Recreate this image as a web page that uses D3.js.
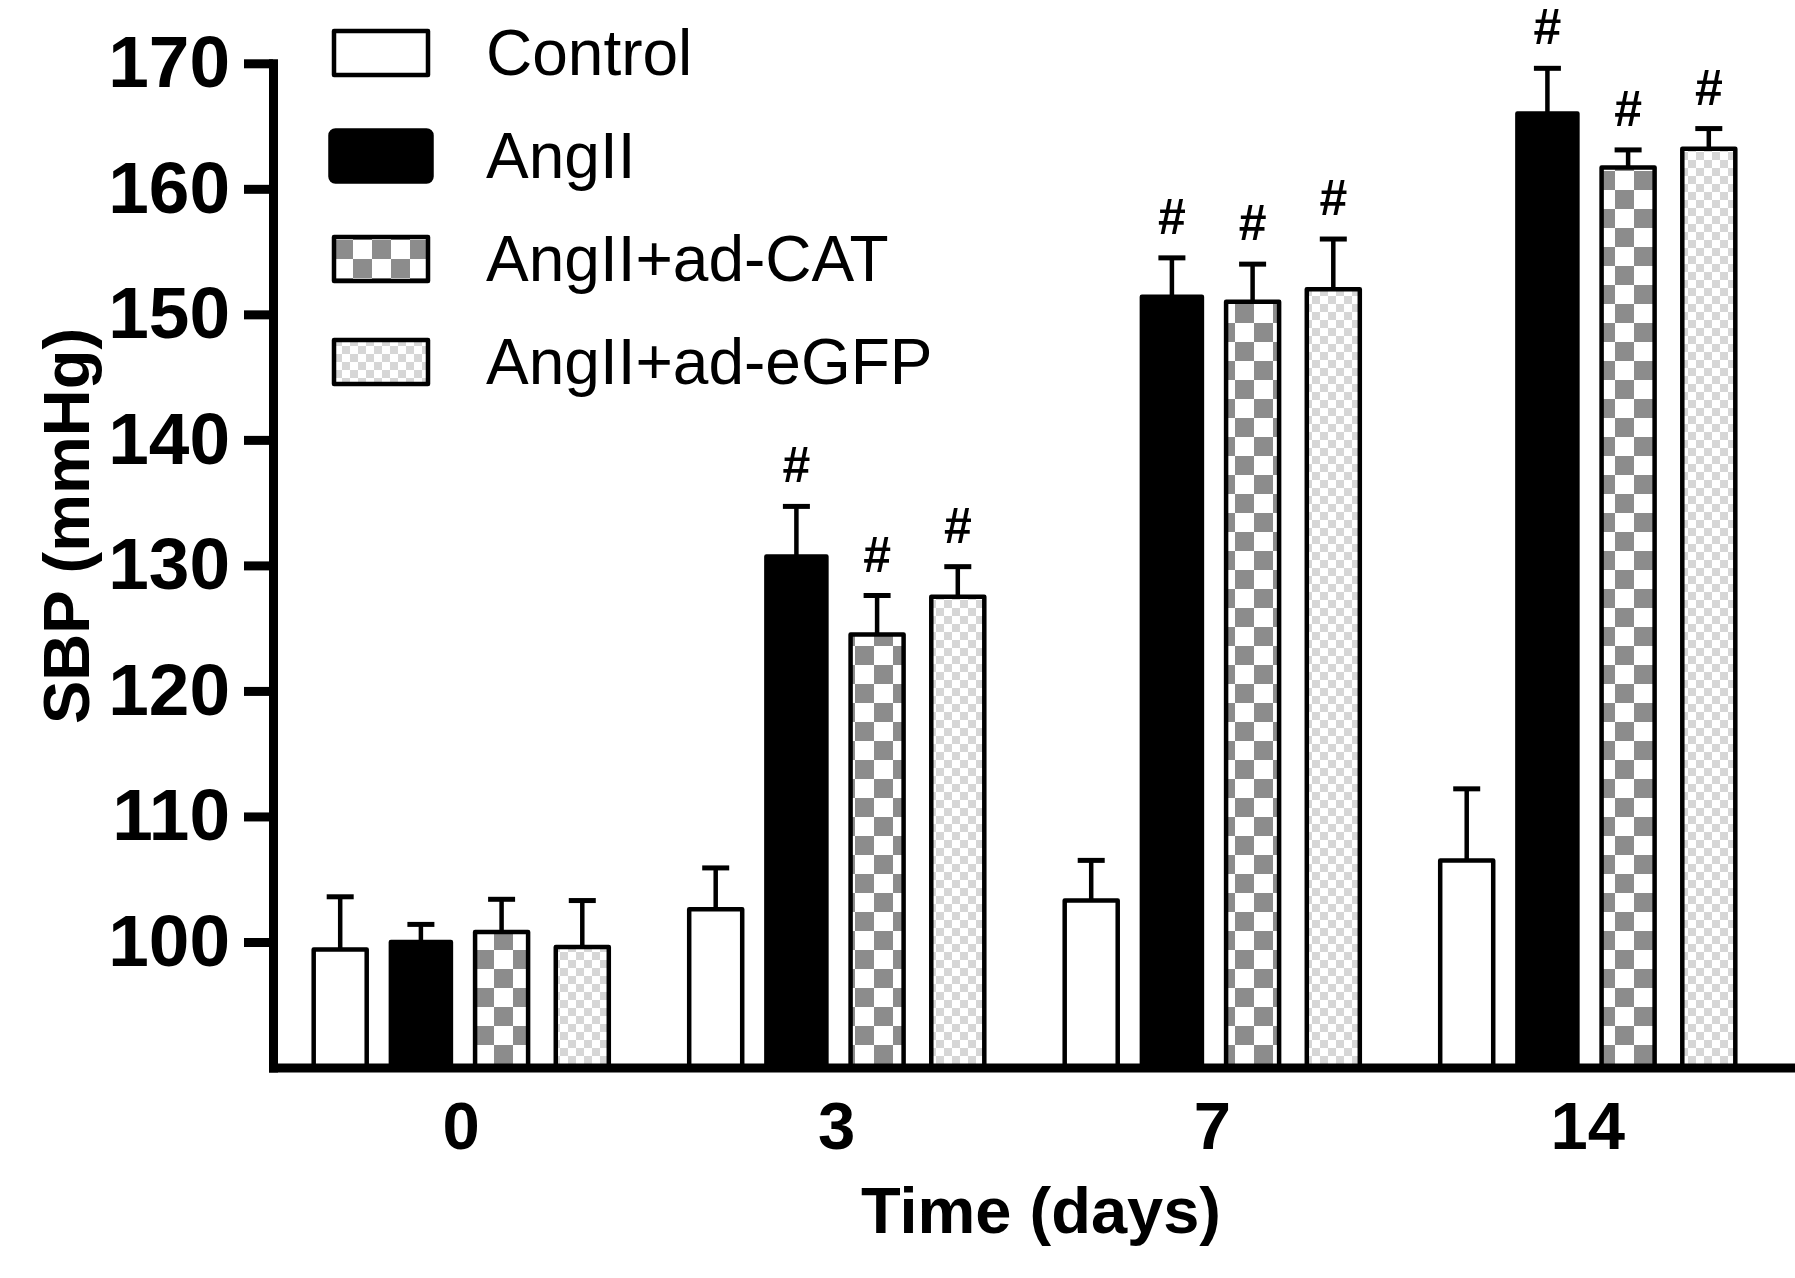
<!DOCTYPE html>
<html lang="en">
<head>
	<meta charset="UTF-8">
	<title>SBP bar chart</title>
	<style>
body{
	margin:0;
	background:#fff;
}
svg text{
	font-family:"Liberation Sans", Arial, sans-serif;
	fill:#000;
}
.axis path, .axis line{
	stroke:#000;
}
.bar{
	stroke:#000;
	stroke-width:4.5px;
	stroke-linejoin:round;
}
.err{
	stroke:#000;
	fill:none;
}
</style>
</head>
<body>
	<script src="https://cdn.jsdelivr.net/npm/d3@7"></script>
	<script type="text/javascript">
		// data (mean and SEM, mmHg)
		var days = ["0", "3", "7", "14"];
		var groups = ["Control", "AngII", "AngII+ad-CAT", "AngII+ad-eGFP"];
		var controlMean = [99.4, 102.6, 103.3, 106.5];
		var controlSem  = [4.2, 3.3, 3.2, 5.7];
		var angMean = [100.0, 130.7, 151.4, 166.0];
		var angSem  = [1.4, 4.0, 3.1, 3.6];
		var catMean = [100.8, 124.5, 151.0, 161.7];
		var catSem  = [2.6, 3.1, 3.0, 1.4];
		var gfpMean = [99.6, 127.5, 152.0, 163.2];
		var gfpSem  = [3.7, 2.4, 4.0, 1.6];
		var sigGroups = ["AngII", "AngII+ad-CAT", "AngII+ad-eGFP"];
		var sigDays = ["3", "7", "14"];
		var yTicks = [100, 110, 120, 130, 140, 150, 160, 170];

		function chart(){
			var svgW = 1795, svgH = 1278;
			var means = [controlMean, angMean, catMean, gfpMean];
			var sems = [controlSem, angSem, catSem, gfpSem];
			var fills = ["#fff", "#000", "url(#checkCat)", "url(#checkGfp)"];

			var rows = [];
			groups.forEach(function(g, gi){
				days.forEach(function(d, di){
					rows.push({day:d, group:g, gi:gi, m:means[gi][di], s:sems[gi][di]});
				});
			});

			var svg = d3.select("body").append("svg").attr("width", svgW).attr("height", svgH);

			// checker patterns
			var defs = svg.append("defs");
			function checker(id, size, col){
				var p = defs.append("pattern").attr("id", id).attr("patternUnits", "userSpaceOnUse")
					.attr("width", size*2).attr("height", size*2);
				p.append("rect").attr("width", size*2).attr("height", size*2).attr("fill", "#fff");
				p.append("rect").attr("x", size).attr("width", size).attr("height", size).attr("fill", col);
				p.append("rect").attr("y", size).attr("width", size).attr("height", size).attr("fill", col);
			}
			checker("checkCat", 19, "#8c8c8c");
			checker("checkGfp", 8, "#d6d6d6");

			var x0 = d3.scaleBand().domain(days).range([273, 1790])
				.paddingInner(0.2141).paddingOuter(0.127).align(0.4266);
			var x1 = d3.scaleBand().domain(groups).range([0, x0.bandwidth()]).paddingInner(0.343);
			var y = d3.scaleLinear().domain([90, 170]).range([1067.5, 63.3]);
			var wide = 3.5; // black bars drawn a bit wider

			function cx(d){ return x0(d.day) + x1(d.group) + x1.bandwidth()/2; }

			// bars
			svg.append("g").selectAll("rect").data(rows).enter().append("rect")
				.attr("class", "bar")
				.attr("x", function(d){ return x0(d.day) + x1(d.group) - (d.gi == 1 ? wide : 0); })
				.attr("width", function(d){ return x1.bandwidth() + (d.gi == 1 ? wide*2 : 0); })
				.attr("y", function(d){ return y(d.m); })
				.attr("height", function(d){ return y(90) - y(d.m); })
				.attr("fill", function(d){ return fills[d.gi]; });

			// error bars (upper only)
			var eg = svg.append("g");
			eg.selectAll("line.stem").data(rows).enter().append("line")
				.attr("class", "err stem").attr("stroke-width", 4.5)
				.attr("x1", cx).attr("x2", cx)
				.attr("y1", function(d){ return y(d.m); })
				.attr("y2", function(d){ return y(d.m + d.s); });
			eg.selectAll("line.cap").data(rows).enter().append("line")
				.attr("class", "err cap").attr("stroke-width", 5)
				.attr("x1", function(d){ return cx(d) - 13.5; })
				.attr("x2", function(d){ return cx(d) + 13.5; })
				.attr("y1", function(d){ return y(d.m + d.s); })
				.attr("y2", function(d){ return y(d.m + d.s); });

			// significance marks
			svg.append("g").selectAll("text").data(rows.filter(function(d){
					return sigGroups.indexOf(d.group) >= 0 && sigDays.indexOf(d.day) >= 0;
				})).enter().append("text")
				.attr("x", cx).attr("y", function(d){ return y(d.m + d.s) - 24; })
				.attr("text-anchor", "middle").style("font-size", "50px").style("font-weight", "bold")
				.text("#");

			// axes
			var yAxis = svg.append("g").attr("class", "axis").attr("transform", "translate(273,0)")
				.call(d3.axisLeft(y).tickValues(yTicks).tickSize(29).tickSizeOuter(0).tickPadding(14));
			yAxis.select(".domain").attr("stroke-width", 9).attr("stroke-linecap", "square");
			yAxis.selectAll(".tick line").attr("stroke-width", 9);
			yAxis.selectAll("text").style("font-size", "73px").style("font-weight", "bold");

			var xAxis = svg.append("g").attr("class", "axis").attr("transform", "translate(0," + y(90) + ")")
				.call(d3.axisBottom(x0).tickSize(0).tickSizeOuter(0).tickPadding(34));
			xAxis.select(".domain").attr("stroke-width", 9).attr("stroke-linecap", "square");
			xAxis.selectAll("text").style("font-size", "67px").style("font-weight", "bold");

			// axis titles
			svg.append("text").attr("transform", "translate(66,526) rotate(-90)")
				.attr("text-anchor", "middle").attr("dy", "0.35em")
				.style("font-size", "65px").style("font-weight", "bold")
				.text("SBP (mmHg)");
			svg.append("text").attr("x", 1041).attr("y", 1233)
				.attr("text-anchor", "middle")
				.style("font-size", "65px").style("font-weight", "bold")
				.text("Time (days)");

			// legend
			var lg = svg.append("g").attr("transform", "translate(334,53)");
			var item = lg.selectAll("g").data(groups).enter().append("g")
				.attr("transform", function(d, i){ return "translate(0," + i*103 + ")"; });
			item.append("rect").attr("class", "bar")
				.attr("x", function(d, i){ return i == 1 ? -wide : 0; })
				.attr("width", function(d, i){ return 94 + (i == 1 ? wide*2 : 0); })
				.attr("y", function(d, i){ return i == 1 ? -22 - wide : -22; })
				.attr("height", function(d, i){ return 44 + (i == 1 ? wide*2 : 0); })
				.attr("rx", function(d, i){ return i == 1 ? 5 : 0; })
				.attr("fill", function(d, i){ return fills[i]; });
			item.append("text").attr("x", 152).attr("dy", "0.35em")
				.style("font-size", "64px")
				.text(function(d){ return d; });
		}
		chart();
	</script>
</body>
</html>
